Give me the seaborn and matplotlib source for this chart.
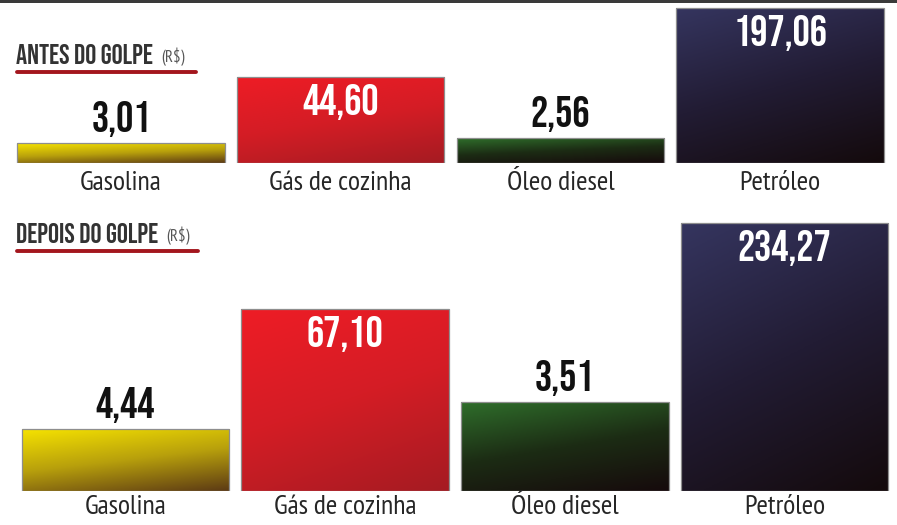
import matplotlib
matplotlib.use("Agg")
import matplotlib.pyplot as plt
import seaborn as sns
import numpy as np
import pandas as pd
from matplotlib import font_manager
from matplotlib.colors import LinearSegmentedColormap
from matplotlib.lines import Line2D
from matplotlib.patches import Rectangle

# ---------------- data ----------------
categorias = ["Gasolina", "Gás de cozinha", "Óleo diesel", "Petróleo"]
valores_antes = [3.01, 44.60, 2.56, 197.06]
valores_depois = [4.44, 67.10, 3.51, 234.27]
# the infographic does not draw bars to scale: visual heights
altura_antes = [20, 86, 25, 155]
altura_depois = [62, 182, 89, 268]
rotulo_dentro = [False, True, False, True]
titulo_antes = "ANTES DO GOLPE"
titulo_depois = "DEPOIS DO GOLPE"
unidade = "(R$)"

gradientes = {
    "Gasolina": ["#f7e400", "#b8a00c", "#5c3a14"],
    "Gás de cozinha": ["#ee1c25", "#d41d25", "#a51b22"],
    "Óleo diesel": ["#2f6e2b", "#1c2c14", "#160a0c"],
    "Petróleo": ["#35355f", "#221c34", "#140a0c"],
}

# ---------------- fonts ----------------
sns.set_theme(style="white")
avail = {f.name for f in font_manager.fontManager.ttflist}


def escolhe(cands):
    return next((f for f in cands if f in avail), "DejaVu Sans")


f_valor = escolhe(["Bebas Neue", "Barlow Condensed", "Oswald", "Roboto Condensed"])
f_titulo = escolhe(["Bebas Neue", "Oswald", "Barlow Condensed", "Roboto Condensed"])
f_rotulo = escolhe(["PT Sans Narrow", "Roboto Condensed", "Barlow Condensed", "Archivo Narrow"])
plt.rcParams["font.family"] = [f_rotulo, "DejaVu Sans"]

W, H = 897, 525
fig = plt.figure(figsize=(W / 100, H / 100), dpi=100)
fig.patch.set_facecolor("white")


def fx(x):
    return x / W


def fy(y):
    return 1 - y / H


def painel(left, right, base, topo, alturas, valores, lbl_off):
    ax = fig.add_axes([fx(left), fy(base), fx(right) - fx(left), (base - topo) / H])
    df = pd.DataFrame({"cat": categorias, "alt": alturas})
    sns.barplot(data=df, x="cat", y="alt", hue="cat", palette=[gradientes[c][1] for c in categorias],
                legend=False, width=0.945, edgecolor="#8e8e8e", linewidth=0.9, ax=ax, zorder=2)
    ax.set_xlim(-0.5, 3.5)
    ax.set_ylim(0, base - topo)
    yy, xx = np.mgrid[0:1:200j, 0:1:200j]
    t = np.clip(0.72 * yy + 0.28 * xx, 0, 1)
    for patch, cat in zip(ax.patches, categorias):
        x0, y0 = patch.get_x(), patch.get_y()
        w, h = patch.get_width(), patch.get_height()
        cmap = LinearSegmentedColormap.from_list(cat, gradientes[cat])
        im = ax.imshow(cmap(t), extent=[x0, x0 + w, y0, y0 + h], aspect="auto",
                       origin="upper", zorder=2.5, interpolation="bilinear")
        im.set_clip_path(patch)
        patch.set_facecolor("none")
        patch.set_zorder(3)
    ax.set_xlim(-0.5, 3.5)
    ax.set_ylim(0, base - topo)
    for i, (cat, v, a) in enumerate(zip(categorias, valores, alturas)):
        txt = f"{v:.2f}".replace(".", ",")
        if rotulo_dentro[i]:
            ax.annotate(txt, xy=(i, a), xytext=(0, -7), textcoords="offset pixels",
                        ha="center", va="top", color="white", fontsize=31,
                        family=f_valor, zorder=5)
        else:
            ax.annotate(txt, xy=(i, a), xytext=(0, 11), textcoords="offset pixels",
                        ha="center", va="baseline", color="#111111", fontsize=31,
                        family=f_valor, zorder=5)
        ax.annotate(cat, xy=(i, 0), xytext=(0, -lbl_off), textcoords="offset pixels",
                    ha="center", va="baseline", color="#262626", fontsize=20, zorder=5,
                    family=f_rotulo, annotation_clip=False)
    ax.set_axis_off()
    return ax


painel(11, 890, 163, 0, altura_antes, valores_antes, 27)
painel(15.5, 894.5, 491, 215, altura_depois, valores_depois, 23)

# top dark strip
fig.add_artist(Rectangle((0, fy(3)), 1, 3 / H, transform=fig.transFigure,
                         facecolor="#3a3a3a", edgecolor="none"))

renderer = fig.canvas.get_renderer()


def cabecalho(texto, baseline, linha_y, linha_x1):
    t = fig.text(fx(16), fy(baseline), texto, fontsize=20, family=f_titulo,
                 color="#333333", ha="left", va="baseline")
    bb = t.get_window_extent(renderer=renderer)
    fig.text(fx(bb.x1 + 8), fy(baseline - 2), unidade, fontsize=12, family=f_rotulo,
             color="#555555", ha="left", va="baseline")
    fig.add_artist(Line2D([fx(17), fx(linha_x1)], [fy(linha_y), fy(linha_y)],
                          transform=fig.transFigure, color="#a3161d", lw=2.8,
                          solid_capstyle="round"))


cabecalho(titulo_antes, 64, 71.5, 196)
cabecalho(titulo_depois, 243, 251, 198)

fig.savefig("out.png", dpi=100, facecolor="white")
